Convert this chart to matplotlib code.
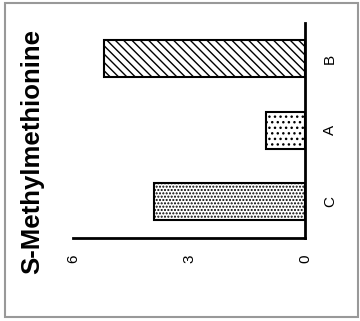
import matplotlib.pyplot as plt
from matplotlib.patches import Rectangle

plt.rcParams['font.family'] = ['Liberation Sans', 'DejaVu Sans']
plt.rcParams['hatch.linewidth'] = 1.0

# data (chart is drawn rotated 90 degrees, as in the reference)
categories = ['C', 'A', 'B']
values = [3.9, 1.0, 5.2]
hatches = ['.....', '...', '\\\\\\\\']
ticks = [0, 3, 6]

fig = plt.figure(figsize=(3.6, 3.21), dpi=100)
W, H = 360, 321
ax = fig.add_axes([73 / W, 1 - 238 / H, (305 - 73) / W, (238 - 23) / H])

for cat, v, h in zip(categories, values, hatches):
    ax.barh(cat, v, height=0.52, color='white', edgecolor='black',
            hatch=h, linewidth=1.5)

ax.set_xlim(6, 0)
ax.set_ylim(-0.51, 2.5)
ax.set_xticks(ticks)
ax.set_xticklabels([str(t) for t in ticks], rotation=90, fontsize=11)
ax.yaxis.tick_right()
ax.set_yticks(range(len(categories)))
ax.set_yticklabels(categories, rotation=90, va='center', fontsize=11)
ax.tick_params(length=0, pad=12)
ax.tick_params(axis='y', pad=13)
for s in ['top', 'left']:
    ax.spines[s].set_visible(False)
for s in ['bottom', 'right']:
    ax.spines[s].set_linewidth(2)

fig.text(32 / W, 1 - 151 / H, 'S-Methylmethionine', rotation=90,
         fontsize=18.5, fontweight='bold', ha='center', va='center')

fig.patches.append(Rectangle((5 / W, 1 - 317 / H), 353 / W, 314 / H,
                             transform=fig.transFigure, fill=False,
                             edgecolor='#999999', linewidth=1.5))

fig.savefig('out.png', dpi=100)
